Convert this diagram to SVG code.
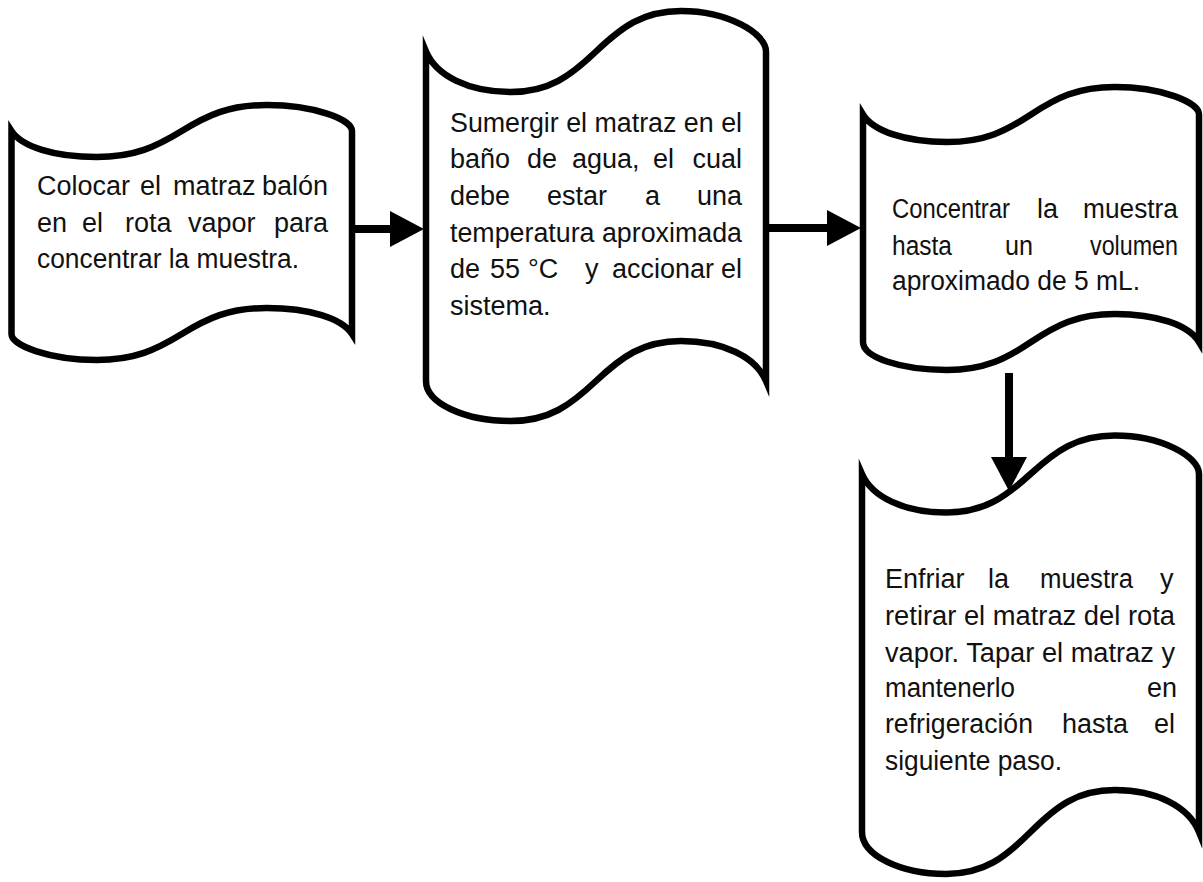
<svg xmlns="http://www.w3.org/2000/svg" width="1203" height="882" viewBox="0 0 1203 882">
  <style>
    .tape { fill: #ffffff; stroke: #000000; stroke-width: 6.5; stroke-linejoin: miter; stroke-miterlimit: 12; }
    .t { font-family: "Liberation Sans", Arial, sans-serif; font-size: 27px; fill: #111111; }
    .link { stroke: #000000; stroke-width: 8; fill: none; }
  </style>
  <defs>
    <marker id="head" viewBox="0 0 34 36" refX="14" refY="18" markerWidth="34" markerHeight="36" markerUnits="userSpaceOnUse" orient="auto">
      <path d="M0,0 L34,18 L0,36 Z" fill="#000000"/>
    </marker>
  </defs>
  <rect width="1203" height="882" fill="#ffffff"/>

  <!-- Step 1: punched-tape box -->
  <g id="step1">
    <path class="tape" d="M11.5,131 C21.7,146.6 54.1,157 96.6,157 C134.9,157 156.2,146.6 181.75,131 S228.6,105 266.9,105 C313.7,105 352,119.3 352,131 L352,334 C341.8,318.4 309.4,308 266.9,308 C228.6,308 207.3,318.4 181.75,334 S134.9,360 96.6,360 C49.8,360 11.5,345.7 11.5,334 Z"/>
    <text class="t" x="37" y="195">Colocar</text>
    <text class="t" x="140" y="195">el</text>
    <text class="t" x="173" y="195">matraz</text>
    <text class="t" x="262" y="195">balón</text>
    <text class="t" x="37" y="232">en</text>
    <text class="t" x="82" y="232">el</text>
    <text class="t" x="125" y="232">rota</text>
    <text class="t" x="188" y="232">vapor</text>
    <text class="t" x="274" y="232">para</text>
    <text class="t" x="37" y="268" textLength="262" lengthAdjust="spacingAndGlyphs">concentrar la muestra.</text>
  </g>

  <!-- Step 2 -->
  <g id="step2">
    <path class="tape" d="M426,51.5 C436.2,75.8 468.5,92 511,92 C549.25,92 570.5,75.8 596,51.5 S642.75,11 681,11 C727.75,11 766,33.3 766,51.5 L766,381 C755.8,357 723.5,341 681,341 C642.75,341 621.5,357 596,381 S549.25,421 511,421 C464.25,421 426,403 426,381 Z"/>
    <text class="t" x="450" y="132" textLength="292" lengthAdjust="spacingAndGlyphs">Sumergir el matraz en el</text>
    <text class="t" x="450" y="168">baño</text>
    <text class="t" x="527" y="168">de</text>
    <text class="t" x="572" y="168">agua,</text>
    <text class="t" x="653" y="168">el</text>
    <text class="t" x="692.5" y="168">cual</text>
    <text class="t" x="450" y="205">debe</text>
    <text class="t" x="547" y="205">estar</text>
    <text class="t" x="645" y="205">a</text>
    <text class="t" x="697" y="205">una</text>
    <text class="t" x="450" y="242" textLength="292" lengthAdjust="spacingAndGlyphs">temperatura aproximada</text>
    <text class="t" x="450" y="278">de</text>
    <text class="t" x="490" y="278">55</text>
    <text class="t" x="528" y="278">°C</text>
    <text class="t" x="585" y="278">y</text>
    <text class="t" x="612" y="278">accionar</text>
    <text class="t" x="721" y="278">el</text>
    <text class="t" x="450" y="315">sistema.</text>
  </g>

  <!-- Step 3 -->
  <g id="step3">
    <path class="tape" d="M863,114.5 C873.1,131 905,142 947,142 C984.8,142 1005.8,131 1031,114.5 S1077.2,87 1115,87 C1161.2,87 1199,102.1 1199,114.5 L1199,342 C1188.9,325.2 1157,314 1115,314 C1077.2,314 1056.2,325.2 1031,342 S984.8,370 947,370 C900.8,370 863,357.4 863,342 Z"/>
    <text class="t" x="892" y="218" textLength="118" lengthAdjust="spacingAndGlyphs">Concentrar</text>
    <text class="t" x="1037" y="218">la</text>
    <text class="t" x="1083" y="218" textLength="95" lengthAdjust="spacingAndGlyphs">muestra</text>
    <text class="t" x="892" y="255" textLength="60" lengthAdjust="spacingAndGlyphs">hasta</text>
    <text class="t" x="1005" y="255" textLength="28" lengthAdjust="spacingAndGlyphs">un</text>
    <text class="t" x="1090" y="255" textLength="88" lengthAdjust="spacingAndGlyphs">volumen</text>
    <text class="t" x="892" y="290" textLength="248" lengthAdjust="spacingAndGlyphs">aproximado de 5 mL.</text>
  </g>

  <!-- Step 4 -->
  <g id="step4">
    <path class="tape" d="M862,474 C872.1,497.1 904.1,512.5 946.25,512.5 C984.2,512.5 1005.2,497.1 1030.5,474 S1076.85,435.5 1114.75,435.5 C1161.1,435.5 1199,456.3 1199,474 L1199,832 C1188.9,806.8 1156.9,790 1114.75,790 C1076.8,790 1055.8,806.8 1030.5,832 S984.2,874 946.25,874 C899.9,874 862,855.1 862,832 Z"/>
    <text class="t" x="885" y="588">Enfriar</text>
    <text class="t" x="988" y="588">la</text>
    <text class="t" x="1040" y="588" textLength="93" lengthAdjust="spacingAndGlyphs">muestra</text>
    <text class="t" x="1160" y="588">y</text>
    <text class="t" x="885" y="625" textLength="290" lengthAdjust="spacingAndGlyphs">retirar el matraz del rota</text>
    <text class="t" x="885" y="662" textLength="290" lengthAdjust="spacingAndGlyphs">vapor. Tapar el matraz y</text>
    <text class="t" x="885" y="697" textLength="130" lengthAdjust="spacingAndGlyphs">mantenerlo</text>
    <text class="t" x="1147" y="697">en</text>
    <text class="t" x="885" y="733" textLength="148" lengthAdjust="spacingAndGlyphs">refrigeración</text>
    <text class="t" x="1062" y="733">hasta</text>
    <text class="t" x="1154" y="733">el</text>
    <text class="t" x="885" y="770" textLength="177" lengthAdjust="spacingAndGlyphs">siguiente paso.</text>
  </g>

  <!-- Connectors -->
  <g id="connectors">
    <line class="link" x1="352" y1="229" x2="404" y2="229" marker-end="url(#head)"/>
    <line class="link" x1="766" y1="228" x2="841" y2="228" marker-end="url(#head)"/>
    <line class="link" x1="1009" y1="373" x2="1009" y2="471" marker-end="url(#head)"/>
  </g>
</svg>
